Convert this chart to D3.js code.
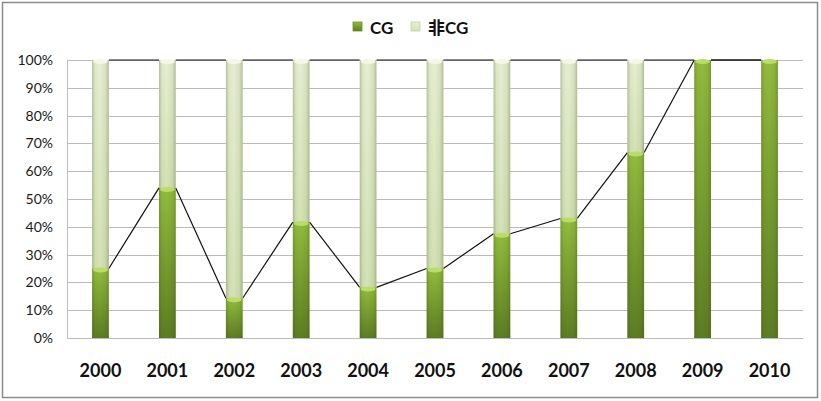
<!DOCTYPE html>
<html>
<head>
<meta charset="utf-8">
<script src="https://cdn.jsdelivr.net/npm/d3@7"></script>
<style>
  body { margin: 0; background: #fff; }
  svg text { font-family: Lato, "Open Sans", "Noto Sans CJK SC", sans-serif; }
</style>
</head>
<body>
<div id="chart"></div>
<script>
// data
const years    = ['2000', '2001', '2002', '2003', '2004', '2005', '2006', '2007', '2008', '2009', '2010'];
const cgShare  = [0.25, 0.54, 0.143, 0.417, 0.182, 0.25, 0.375, 0.43, 0.667, 1, 1];
const yTicks   = [0, 0.1, 0.2, 0.3, 0.4, 0.5, 0.6, 0.7, 0.8, 0.9, 1];
const seriesNames = ['CG', '非CG'];

// =============================================
const W = 821, H = 401;
const plot = { left: 67, right: 803, top: 60, bottom: 338 };

const svg = d3.select('#chart')
              .append('svg')
              .attr('width', W)
              .attr('height', H);

const defs = svg.append('defs');

// vertical gradients for the two series
function vGrad(id, top, bottom) {
  const g = defs.append('linearGradient').attr('id', id)
                .attr('x1', 0).attr('y1', 0).attr('x2', 0).attr('y2', 1);
  g.append('stop').attr('offset', '0%').attr('stop-color', top);
  g.append('stop').attr('offset', '100%').attr('stop-color', bottom);
}
vGrad('gCG', '#92bd3e', '#5c7d22');
vGrad('gNon', '#e6efd2', '#d4e2b5');

// horizontal shading (cylinder look)
const sh = defs.append('linearGradient').attr('id', 'shade')
               .attr('x1', 0).attr('y1', 0).attr('x2', 1).attr('y2', 0);
[[0, 0.28], [0.18, 0.05], [0.45, 0], [0.8, 0.08], [1, 0.3]].forEach(s => {
  sh.append('stop').attr('offset', s[0]).attr('stop-color', '#3a4a10').attr('stop-opacity', s[1]);
});

// chart frame
svg.append('rect')
   .attr('x', 2.5).attr('y', 2.5)
   .attr('width', W - 6).attr('height', H - 6)
   .attr('fill', '#fff')
   .attr('stroke', '#8c8c8c')
   .attr('stroke-width', 1.5);

const x = d3.scaleBand()
            .domain(years)
            .range([plot.left, plot.right])
            .paddingInner(0.75)
            .paddingOuter(0.375);

const y = d3.scaleLinear()
            .domain([0, 1])
            .range([plot.bottom, plot.top]);

// gridlines
svg.append('g')
   .selectAll('line')
   .data(yTicks)
   .enter()
   .append('line')
   .attr('x1', plot.left).attr('x2', plot.right)
   .attr('y1', d => Math.round(y(d)) + 0.5)
   .attr('y2', d => Math.round(y(d)) + 0.5)
   .attr('stroke', '#bcbcbc')
   .attr('stroke-width', 1);

// left axis line
svg.append('line')
   .attr('x1', plot.left + 0.5).attr('x2', plot.left + 0.5)
   .attr('y1', plot.top).attr('y2', plot.bottom)
   .attr('stroke', '#bcbcbc');

// y axis labels
const yAxis = d3.axisLeft(y)
                .tickValues(yTicks)
                .tickFormat(d3.format('.0%'))
                .tickSize(0)
                .tickPadding(14);
const ya = svg.append('g')
              .attr('transform', `translate(${plot.left},0)`)
              .call(yAxis);
ya.select('.domain').remove();
ya.selectAll('text')
  .attr('font-size', 14)
  .attr('fill', '#1a1a1a');

// x axis labels
const xAxis = d3.axisBottom(x).tickSize(0).tickPadding(26);
const xa = svg.append('g')
              .attr('transform', `translate(0,${plot.bottom})`)
              .call(xAxis);
xa.select('.domain').remove();
xa.selectAll('text')
  .attr('font-size', 18)
  .attr('font-weight', 'bold')
  .attr('fill', '#111');

// series lines (connect stack boundaries between bars)
const bw = x.bandwidth();
const lineG = svg.append('g');
for (let i = 0; i < years.length - 1; i++) {
  [cgShare[i], 1].forEach((v, k) => {
    const v2 = k === 0 ? cgShare[i + 1] : 1;
    lineG.append('line')
         .attr('x1', x(years[i]) + bw).attr('y1', y(v))
         .attr('x2', x(years[i + 1])).attr('y2', y(v2))
         .attr('stroke', '#111')
         .attr('stroke-width', 1.2);
  });
}

// bars
const bars = svg.append('g')
                .selectAll('g')
                .data(years.map((d, i) => ({ year: d, cg: cgShare[i] })))
                .enter()
                .append('g');

function segment(sel, y0f, y1f, fill, cap) {
  sel.append('rect')
     .attr('x', d => x(d.year))
     .attr('width', bw)
     .attr('y', d => y(y1f(d)))
     .attr('height', d => Math.max(0, y(y0f(d)) - y(y1f(d))))
     .attr('fill', fill);
  sel.append('rect')
     .attr('x', d => x(d.year))
     .attr('width', bw)
     .attr('y', d => y(y1f(d)))
     .attr('height', d => Math.max(0, y(y0f(d)) - y(y1f(d))))
     .attr('fill', 'url(#shade)');
  // top cap highlight
  sel.filter(d => y1f(d) - y0f(d) > 0.001)
     .append('ellipse')
     .attr('cx', d => x(d.year) + bw / 2)
     .attr('cy', d => y(y1f(d)) + 1.5)
     .attr('rx', bw / 2 - 1)
     .attr('ry', 2.5)
     .attr('fill', cap);
}

segment(bars, d => d.cg, d => 1, 'url(#gNon)', '#f2f7e6');
segment(bars, d => 0, d => d.cg, 'url(#gCG)', '#b9dc6a');

// legend
const legend = svg.append('g').attr('transform', 'translate(353,20)');
const legendItems = [
  { name: seriesNames[0], fill: 'url(#gCG)', x: 0 },
  { name: seriesNames[1], fill: 'url(#gNon)', x: 58 }
];
legendItems.forEach(it => {
  legend.append('rect')
        .attr('x', it.x).attr('y', 2)
        .attr('width', 9).attr('height', 9)
        .attr('fill', it.fill)
        .attr('stroke', it.name === 'CG' ? '#6a8f2a' : '#c5d3a5')
        .attr('stroke-width', 0.8);
  legend.append('text')
        .attr('x', it.x + 17).attr('y', 13.5)
        .attr('font-size', 17)
        .attr('font-weight', 'bold')
        .attr('fill', '#111')
        .text(it.name);
});
</script>
</body>
</html>
